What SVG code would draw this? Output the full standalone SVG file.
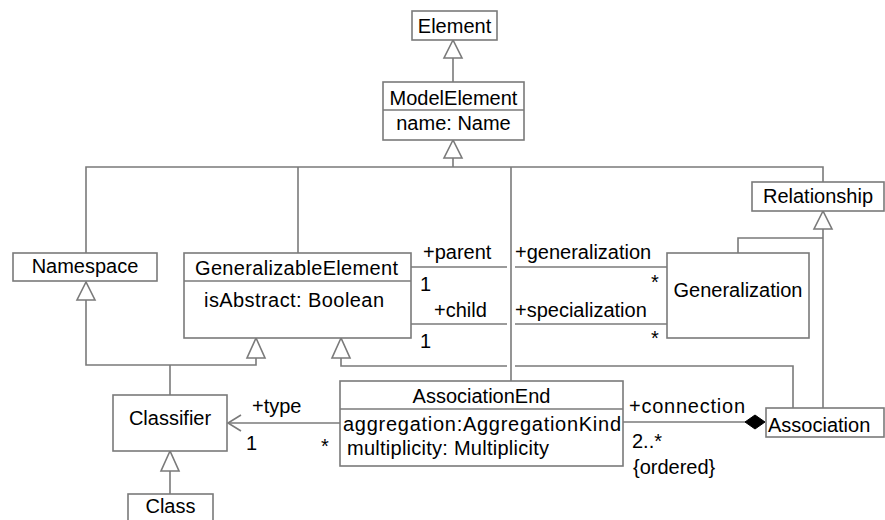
<svg xmlns="http://www.w3.org/2000/svg" width="885" height="520" viewBox="0 0 885 520">
<style>
.box{fill:#fff;stroke:#7a7a7a;stroke-width:1.6}
.ln{fill:none;stroke:#7a7a7a;stroke-width:1.6}
.tri{fill:#fff;stroke:#7a7a7a;stroke-width:1.6}
text{font-family:"Liberation Sans",Arial,sans-serif;font-size:20px;fill:#000}
.c{text-anchor:middle}
</style>
<rect width="885" height="520" fill="#fff"/>
<g id="connectors">
  <line class="ln" x1="453" y1="58" x2="453" y2="82"/>
  <polygon class="tri" points="453,40 444,58 462,58"/>
  <line class="ln" x1="453" y1="158" x2="453" y2="167"/>
  <polyline class="ln" points="86,253 86,167 823,167 823,182"/>
  <line class="ln" x1="298" y1="167" x2="298" y2="253"/>
  <line class="ln" x1="511" y1="167" x2="511" y2="381"/>
  <polygon class="tri" points="453,140 444,158 462,158"/>
  <line class="ln" x1="823" y1="229" x2="823" y2="408"/>
  <polyline class="ln" points="823,238 738,238 738,253"/>
  <polygon class="tri" points="823,211 814,229 832,229"/>
  <line class="ln" x1="411" y1="267" x2="507" y2="267"/>
  <line class="ln" x1="515" y1="267" x2="667" y2="267"/>
  <line class="ln" x1="411" y1="324" x2="507" y2="324"/>
  <line class="ln" x1="515" y1="324" x2="667" y2="324"/>
  <polyline class="ln" points="86,300 86,365 256,365 256,358"/>
  <line class="ln" x1="170" y1="365" x2="170" y2="395"/>
  <polygon class="tri" points="86,282 77,300 95,300"/>
  <polygon class="tri" points="256,338 247,358 265,358"/>
  <polyline class="ln" points="341,358 341,366 507,366"/>
  <polyline class="ln" points="515,366 793,366 793,408"/>
  <polygon class="tri" points="341,338 332,358 350,358"/>
  <line class="ln" x1="170" y1="471" x2="170" y2="494"/>
  <polygon class="tri" points="170,451 161,471 179,471"/>
  <line class="ln" x1="228" y1="423" x2="340" y2="423"/>
  <polyline class="ln" points="241,415 228,423 241,431"/>
  <line class="ln" x1="623" y1="422" x2="746" y2="422"/>
  <polygon points="745,422 755,415 765,422 755,429" fill="#000" stroke="#000" stroke-width="1"/>
</g>
<g id="Element">
  <rect class="box" x="412" y="11" width="85" height="29"/>
  <text class="c" x="454.5" y="33">Element</text>
</g>
<g id="ModelElement">
  <rect class="box" x="383" y="82" width="141" height="58"/>
  <line class="ln" x1="383" y1="110" x2="524" y2="110"/>
  <text class="c" x="453.5" y="105">ModelElement</text>
  <text class="c" x="453.5" y="130">name: Name</text>
</g>
<g id="Namespace">
  <rect class="box" x="13" y="253" width="144" height="28"/>
  <text class="c" x="85" y="273">Namespace</text>
</g>
<g id="GeneralizableElement">
  <rect class="box" x="184" y="253" width="227" height="85"/>
  <line class="ln" x1="184" y1="281" x2="411" y2="281"/>
  <text x="195" y="275" textLength="203" lengthAdjust="spacing">GeneralizableElement</text>
  <text x="204" y="307" textLength="180" lengthAdjust="spacing">isAbstract: Boolean</text>
</g>
<g id="Relationship">
  <rect class="box" x="752" y="182" width="132" height="29"/>
  <text class="c" x="818" y="203">Relationship</text>
</g>
<g id="Generalization">
  <rect class="box" x="667" y="253" width="142" height="85"/>
  <text class="c" x="738" y="297">Generalization</text>
</g>
<g id="Classifier">
  <rect class="box" x="113" y="395" width="114" height="56"/>
  <text class="c" x="170" y="425">Classifier</text>
</g>
<g id="Class">
  <rect class="box" x="128" y="494" width="85" height="30"/>
  <text class="c" x="170.5" y="513">Class</text>
</g>
<g id="AssociationEnd">
  <rect class="box" x="340" y="381" width="283" height="85"/>
  <line class="ln" x1="340" y1="409" x2="623" y2="409"/>
  <text class="c" x="481.5" y="403">AssociationEnd</text>
  <text x="343" y="431" textLength="278" lengthAdjust="spacing">aggregation:AggregationKind</text>
  <text x="347" y="455" textLength="202" lengthAdjust="spacing">multiplicity: Multiplicity</text>
</g>
<g id="Association">
  <rect class="box" x="766" y="408" width="118" height="29"/>
  <text x="768" y="432">Association</text>
</g>
<g id="labels">
  <text x="423" y="259">+parent</text>
  <text x="420" y="291">1</text>
  <text x="434" y="317">+child</text>
  <text x="420" y="348">1</text>
  <text x="515" y="259">+generalization</text>
  <text x="651" y="289">*</text>
  <text x="515" y="317">+specialization</text>
  <text x="651" y="345">*</text>
  <text x="252" y="413">+type</text>
  <text x="246" y="450">1</text>
  <text x="321" y="453">*</text>
  <text x="629" y="413" textLength="116" lengthAdjust="spacing">+connection</text>
  <text x="632" y="448">2..*</text>
  <text x="633" y="474">{ordered}</text>
</g>
</svg>
